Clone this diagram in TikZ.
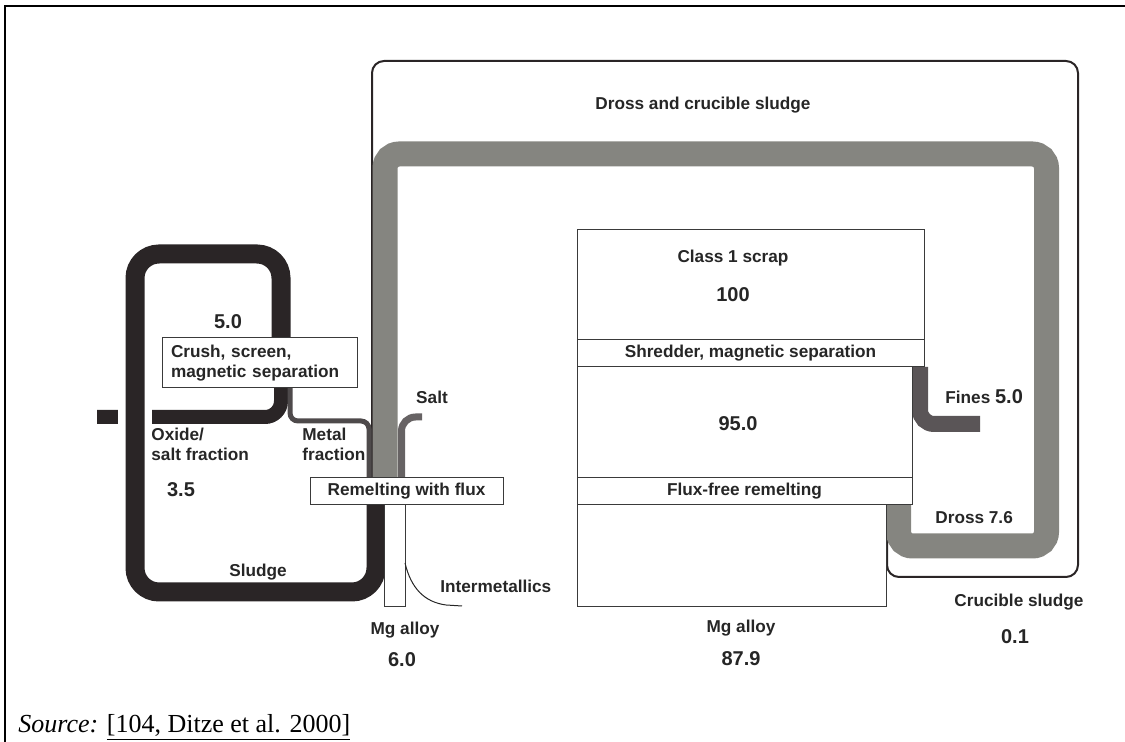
\documentclass[tikz,border=0pt]{standalone}
\usepackage{fontspec}
\setmainfont{Liberation Sans}
\newfontfamily\sourcefont{Liberation Serif}
\definecolor{drossgray}{HTML}{858580}
\definecolor{sludgeblack}{HTML}{2A2526}
\definecolor{metalgray}{HTML}{4E4A4B}
\definecolor{saltgray}{HTML}{676364}
\definecolor{finesgray}{HTML}{5A5557}
\definecolor{boxline}{HTML}{3A3A3A}
\definecolor{labeltext}{HTML}{262626}

\begin{document}
\begin{tikzpicture}[x=0.5pt,y=-0.5pt,
    box/.style={draw=boxline,line width=0.5pt,fill=white,inner sep=0pt},
    lbl/.style={font=\bfseries\fontsize{8.6pt}{10pt}\selectfont,text=labeltext,inner sep=0pt},
    num/.style={font=\bfseries\fontsize{10pt}{12pt}\selectfont,text=labeltext,inner sep=0pt}]
    \useasboundingbox (0,0) rectangle (1125,742);
    \draw[line width=1pt] (1125,6.5) -| (4.5,742);

    % pipe ends
    \coordinate (drossout) at (898.5,505);
    \coordinate (drossin) at (385,480);
    \coordinate (frameend) at (372,478);
    \coordinate (finesout) at (920,367);
    \coordinate (finesend) at (980,424);
    \coordinate (sludgeout) at (376,505);
    \coordinate (crushin) at (281,380);
    \coordinate (oxideend) at (97,417);
    \coordinate (metalout) at (290,388);
    \coordinate (metalin) at (369,480);
    \coordinate (saltend) at (422,417);
    \coordinate (saltin) at (401.5,480);

    % dross and crucible sludge loop
    \draw[draw=sludgeblack,line width=1pt,rounded corners=6pt]
      (887,538) |- (1078,577) -- (1078,61) -| (frameend);
    \draw[draw=drossgray,line width=12.5pt,rounded corners=7pt]
      (drossout) |- (1046.5,546) -- (1046.5,154) -| (drossin);
    \draw[draw=finesgray,line width=8pt,rounded corners=7pt] (finesout) |- (finesend);

    % sludge loop
    \draw[draw=sludgeblack,line width=7pt,rounded corners=8pt] (crushin) |- (oxideend);
    \fill[white] (118,404) rectangle (152,431);
    \draw[draw=sludgeblack,line width=9.5pt,rounded corners=12pt]
      (sludgeout) |- (135,592) |- (281,254) -- (crushin);
    \draw[draw=metalgray,line width=2.5pt,rounded corners=4pt] (metalout) -- (290,421) -| (metalin);
    \draw[draw=saltgray,line width=3.5pt,rounded corners=7pt] (saltend) -| (saltin);

    % process boxes
    \node[box,minimum width=173.5pt,minimum height=55pt] (class1) at (750.5,285) {};
    \node[box,lbl,minimum width=173.5pt,minimum height=13.5pt] (shredder) at (750.5,353.5) {Shredder, magnetic separation};
    \node[box,minimum width=167.5pt,minimum height=55.5pt] (melt95) at (744.5,422.5) {};
    \node[box,lbl,minimum width=167.5pt,minimum height=13.5pt] (fluxfree) at (744.5,491.5) {Flux-free remelting};
    \node[box,minimum width=154.5pt,minimum height=51pt] (mgout) at (731.5,556) {};
    \node[box,lbl,align=left,text width=88.5pt,inner xsep=4.5pt,minimum height=25pt] (crush) at (259.5,363) {Crush, screen,\\magnetic separation};
    \node[box,lbl,minimum width=96.5pt,minimum height=13.5pt] (remelt) at (406.5,491.5) {Remelting with flux};
    \node[box,minimum width=10.5pt,minimum height=51pt] (mgbar) at (394.5,556) {};
    \draw[draw=labeltext,line width=0.5pt] (405,563) .. controls (411,588) and (424,602) .. (446,605) -- (462,606);

    % labels
    \node[lbl] (drosstitle) at (703,105) {Dross and crucible sludge};
    \node[lbl] (class1lbl) at (733,258) {Class 1 scrap};
    \node[num] (class1num) at (733,295) {100};
    \node[num] (melt95num) at (738,424) {95.0};
    \node[lbl] (mgoutlbl) at (741,628) {Mg alloy};
    \node[num] (mgoutnum) at (741,659) {87.9};
    \node[lbl,anchor=west] (fineslbl) at (945,397) {Fines {\fontsize{10pt}{12pt}\selectfont 5.0}};
    \node[lbl,anchor=west] (drosslbl) at (935,518) {Dross 7.6};
    \node[lbl] (cruciblelbl) at (1019,602) {Crucible sludge};
    \node[num] (cruciblenum) at (1015,637) {0.1};
    \node[num] (crushnum) at (228,322) {5.0};
    \node[lbl,align=left,anchor=west] (oxidelbl) at (151,444) {Oxide/\\salt fraction};
    \node[lbl,align=left,anchor=west] (metallbl) at (302,444) {Metal\\fraction};
    \node[num] (oxidenum) at (181,490) {3.5};
    \node[lbl] (sludgelbl) at (258,572) {Sludge};
    \node[lbl] (saltlbl) at (432,397) {Salt};
    \node[lbl,anchor=west] (interlbl) at (440,586) {Intermetallics};
    \node[lbl] (mgbarlbl) at (405,630) {Mg alloy};
    \node[num] (mgbarnum) at (402,660) {6.0};
    \node[anchor=base west,inner sep=0pt,font=\sourcefont\fontsize{13pt}{15pt}\selectfont] (source) at (18,733)
      {\textit{Source:} \underline{[104, Ditze et al. 2000]}};
\end{tikzpicture}
\end{document}
